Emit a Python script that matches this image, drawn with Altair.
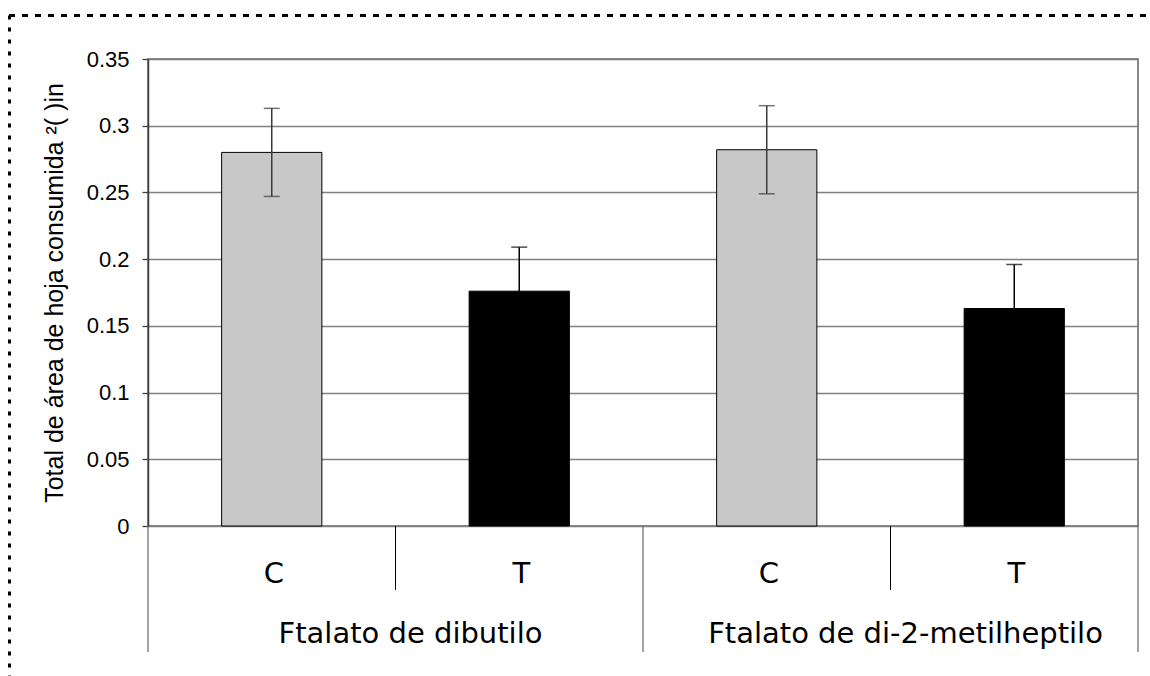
import altair as alt
import pandas as pd

# Leaf area consumed, control (C) vs treated (T), per phthalate
grupos = ["Ftalato de dibutilo", "Ftalato de di-2-metilheptilo"]
tratamientos = ["C", "T"]
medias = [0.280, 0.176, 0.282, 0.163]
errores = [0.033, 0.033, 0.033, 0.033]
y_ticks = [0, 0.05, 0.1, 0.15, 0.2, 0.25, 0.3, 0.35]
y_titulo = "Total de área de hoja consumida ²( )in"

claves = [f"{g}|{t}" for g in grupos for t in tratamientos]
df = pd.DataFrame({
    "clave": claves,
    "grupo": [g for g in grupos for _ in tratamientos],
    "trat": tratamientos * len(grupos),
    "media": medias,
    "err": errores,
})
df["lo"] = df["media"] - df["err"]
df["hi"] = df["media"] + df["err"]

W, H = 990, 467
PAD_L, PAD_T = 148, 59
TOTAL_W, TOTAL_H = 1150, 676

xscale = alt.Scale(type="band", domain=claves, paddingInner=0, paddingOuter=0)
yscale = alt.Scale(domain=[0, 0.35], nice=False, zero=True)
# error bars: dark grey over the grey bars, black over the black ones
err_color = alt.condition(alt.datum.trat == "T", alt.value("#000000"), alt.value("#3a3a3a"))

def xk(**kw):
    return alt.X("clave:N", scale=xscale, axis=None, **kw)

base = alt.Chart(df)

bars = base.mark_bar(width=alt.RelativeBandSize(0.405), stroke="black", strokeWidth=1).encode(
    x=xk(),
    y=alt.Y(
        "media:Q",
        scale=yscale,
        axis=alt.Axis(
            title=y_titulo,
            values=y_ticks,
            format="~g",
            grid=True,
            gridColor="#808080",
            gridWidth=1.3,
            domainColor="#404040",
            domainWidth=1.5,
            tickColor="#404040",
            tickWidth=1.3,
            tickSize=6,
            labelPadding=13,
            labelFont="Liberation Sans",
            labelFontSize=22,
            labelColor="black",
            titleFont="Liberation Sans",
            titleFontSize=25,
            titleFontWeight="normal",
            titleColor="black",
            titlePadding=19,
        ),
    ),
    color=alt.Color("trat:N", scale=alt.Scale(domain=tratamientos, range=["#c8c8c8", "#000000"]), legend=None),
)

err_line = base.mark_rule(strokeWidth=1.5).encode(
    x=xk(), y=alt.Y("lo:Q", scale=yscale), y2="hi:Q", color=err_color
)
cap_hi = base.mark_tick(size=16, thickness=1.5).encode(
    x=xk(), y=alt.Y("hi:Q", scale=yscale), color=err_color
)
cap_lo = base.mark_tick(size=16, thickness=1.5).encode(
    x=xk(), y=alt.Y("lo:Q", scale=yscale), color=err_color
)

# hierarchical category axis below the plot
lbl_trat = base.mark_text(font="DejaVu Sans", fontSize=29, color="black", baseline="alphabetic", dx=2).encode(
    x=xk(), y=alt.value(H + 57), text="trat:N"
)
lbl_grupo = base.transform_filter(alt.datum.trat == "C").mark_text(
    font="DejaVu Sans", fontSize=29, color="black", baseline="alphabetic", dx=15
).encode(x=xk(bandPosition=1), y=alt.value(H + 117), text="grupo:N")

sep_corto = base.transform_filter(alt.datum.trat == "T").mark_rule(color="black", strokeWidth=1).encode(
    x=xk(bandPosition=0), y=alt.value(H), y2=alt.value(H + 64)
)
sep_largo = base.transform_filter(alt.datum.trat == "C").mark_rule(color="#666666", strokeWidth=1.2).encode(
    x=xk(bandPosition=0), y=alt.value(H), y2=alt.value(H + 126)
)
sep_fin = base.transform_filter(alt.datum.clave == claves[-1]).mark_rule(color="#666666", strokeWidth=1.2).encode(
    x=xk(bandPosition=1), y=alt.value(H), y2=alt.value(H + 126)
)

# dotted frame around the figure (top and left edges)
uno = alt.Data(values=[{"k": 0}])
marco_sup = alt.Chart(uno).mark_rule(color="black", strokeWidth=3, strokeDash=[6, 7]).encode(
    x=alt.value(9 - PAD_L), x2=alt.value(TOTAL_W - PAD_L), y=alt.value(15.5 - PAD_T)
)
marco_izq = alt.Chart(uno).mark_rule(color="black", strokeWidth=3, strokeDash=[4, 8]).encode(
    x=alt.value(9.5 - PAD_L), y=alt.value(15.5 - PAD_T), y2=alt.value(TOTAL_H - PAD_T)
)

chart = alt.layer(
    bars, err_line, cap_hi, cap_lo,
    sep_corto, sep_largo, sep_fin, lbl_trat, lbl_grupo,
    marco_sup, marco_izq,
).properties(
    width=W,
    height=H,
    autosize=alt.AutoSizeParams(type="none"),
    padding={"left": PAD_L, "top": PAD_T, "right": TOTAL_W - PAD_L - W, "bottom": TOTAL_H - PAD_T - H},
    background="white",
).configure_view(stroke="#606060", strokeWidth=1.5)

chart.save("out.html", embed_options={"renderer": "svg", "actions": False})
